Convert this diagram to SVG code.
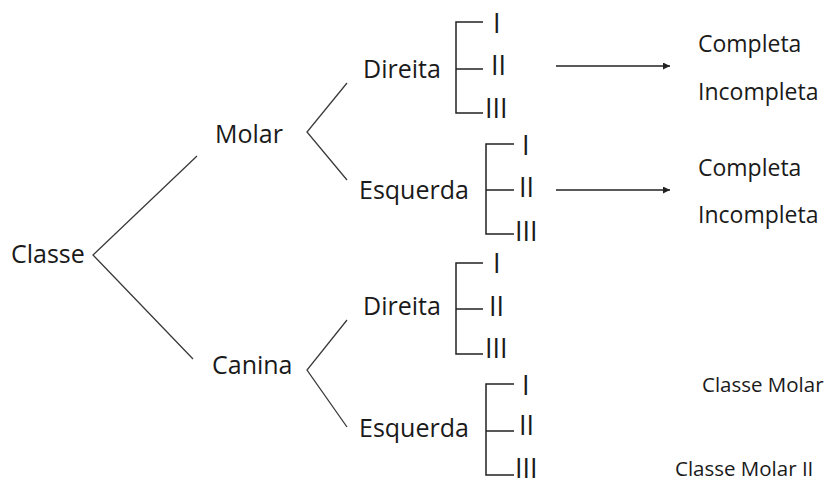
<svg xmlns="http://www.w3.org/2000/svg" width="825" height="479" viewBox="0 0 825 479">
<style>
text{font-family:"Open Sans","Noto Sans","Liberation Sans",sans-serif;fill:#1a1a1a}
.m{font-size:25px}
.n{font-size:27px}
.r{font-size:23px}
.s{font-size:20.5px}
.ln{fill:none;stroke:#3a3a3a;stroke-width:1.3}
.br{fill:none;stroke:#222;stroke-width:1.5}
</style>
<defs>
<marker id="ah" viewBox="0 0 10 10" refX="10" refY="5" markerWidth="7" markerHeight="7" markerUnits="userSpaceOnUse" orient="auto">
<path d="M0,0 L10,5 L0,10 Z" fill="#222"/>
</marker>
</defs>
<rect width="825" height="479" fill="#fff"/>
<g id="connectors">
<path class="ln" d="M197,156 L93,255 L193,359"/>
<path class="ln" d="M347,83 L307,132 L347,180"/>
<path class="ln" d="M347,320 L307,370 L347,427"/>
<path class="br" d="M483,22 H456 V113 H483 M456,69 H483"/>
<path class="br" d="M514,144 H486 V234 H514 M486,190 H514"/>
<path class="br" d="M483,263 H456 V354 H483 M456,309 H483"/>
<path class="br" d="M514,384 H486 V475 H514 M486,431 H514"/>
<line class="br" x1="556" y1="66" x2="670" y2="66" marker-end="url(#ah)"/>
<line class="br" x1="556" y1="190" x2="670" y2="190" marker-end="url(#ah)"/>
</g>
<g id="classe"><text class="m" x="11" y="263">Classe</text></g>
<g id="molar"><text class="m" x="215" y="143">Molar</text></g>
<g id="canina"><text class="m" x="212" y="374">Canina</text></g>
<g id="molar-direita"><text class="m" x="363" y="78">Direita</text></g>
<g id="molar-esquerda"><text class="m" x="359" y="199">Esquerda</text></g>
<g id="canina-direita"><text class="m" x="363" y="315">Direita</text></g>
<g id="canina-esquerda"><text class="m" x="359" y="437">Esquerda</text></g>
<g id="md-classes">
<text class="n" x="493" y="33">I</text>
<text class="n" x="491" y="75">II</text>
<text class="n" x="485" y="118">III</text>
</g>
<g id="me-classes">
<text class="n" x="522" y="155">I</text>
<text class="n" x="519" y="197">II</text>
<text class="n" x="515" y="241">III</text>
</g>
<g id="cd-classes">
<text class="n" x="493" y="273">I</text>
<text class="n" x="489" y="316">II</text>
<text class="n" x="485" y="358">III</text>
</g>
<g id="ce-classes">
<text class="n" x="522" y="395">I</text>
<text class="n" x="519" y="435">II</text>
<text class="n" x="515" y="478">III</text>
</g>
<g id="md-result">
<text class="r" x="698" y="52">Completa</text>
<text class="r" x="698" y="100">Incompleta</text>
</g>
<g id="me-result">
<text class="r" x="698" y="176">Completa</text>
<text class="r" x="698" y="223">Incompleta</text>
</g>
<g id="classe-molar-1"><text class="s" x="702" y="392">Classe Molar</text></g>
<g id="classe-molar-2"><text class="s" x="675" y="476">Classe Molar II</text></g>
</svg>
